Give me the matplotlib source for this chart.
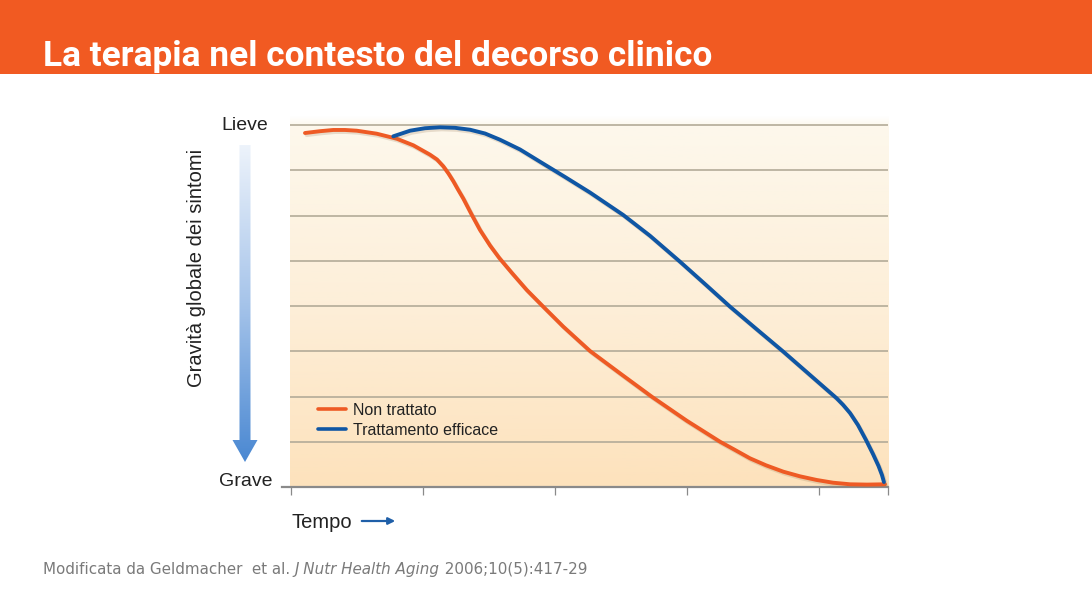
import matplotlib
matplotlib.use('Agg')
import matplotlib.pyplot as plt
import matplotlib.patheffects as pe
import numpy as np
from matplotlib.patches import Polygon, Rectangle
from matplotlib.colors import LinearSegmentedColormap

W, H = 1092, 591

# Values: x in time-tick units, y from 0 (Grave) to 8 (Lieve)
non_trattato_x = [0.106, 0.220, 0.320, 0.409, 0.498, 0.649, 0.801, 0.927, 1.053, 1.106,
                  1.154, 1.193, 1.230, 1.265, 1.305, 1.369, 1.432, 1.508, 1.578, 1.674,
                  1.786, 1.911, 2.063, 2.265, 2.492, 2.733, 2.998, 3.250, 3.364, 3.477,
                  3.598, 3.730, 3.856, 3.983, 4.106, 4.235, 4.364, 4.500]
non_trattato_y = [7.823, 7.863, 7.890, 7.890, 7.874, 7.808, 7.697, 7.551, 7.344, 7.238,
                  7.087, 6.928, 6.756, 6.575, 6.376, 6.018, 5.680, 5.337, 5.061, 4.729,
                  4.354, 3.985, 3.543, 3.006, 2.513, 1.996, 1.465, 1.001, 0.818, 0.634,
                  0.480, 0.338, 0.236, 0.155, 0.095, 0.060, 0.053, 0.060]
trattamento_x = [0.775, 0.902, 1.015, 1.129, 1.242, 1.356, 1.470, 1.583, 1.735, 1.886,
                 2.076, 2.265, 2.517, 2.720, 2.947, 3.136, 3.326, 3.530, 3.730, 3.932,
                 4.134, 4.182, 4.235, 4.295, 4.356, 4.409, 4.451, 4.477, 4.492]
trattamento_y = [7.750, 7.874, 7.929, 7.949, 7.938, 7.896, 7.812, 7.675, 7.459, 7.189,
                 6.851, 6.508, 6.011, 5.551, 4.979, 4.486, 3.985, 3.481, 2.990, 2.475,
                 1.960, 1.817, 1.635, 1.370, 1.039, 0.729, 0.464, 0.265, 0.110]

grid_levels = [1, 2, 3, 4, 5, 6, 7, 8]
time_ticks = [0, 1, 2, 3, 4, 4.52]
series_labels = ['Non trattato', 'Trattamento efficace']
series_colors = ['#EE5A24', '#0F56A4']

title = 'La terapia nel contesto del decorso clinico'
y_label = 'Gravità globale dei sintomi'

fig = plt.figure(figsize=(W / 100, H / 100), dpi=100)

# background layer in pixel coordinates
bg = fig.add_axes([0, 0, 1, 1])
bg.axis('off')
bg.add_patch(Rectangle((0, 0), W, 74, color='#F15A22', lw=0))

# gradient arrow next to the y label
arrow = Polygon([(239.5, 145), (250.5, 145), (250.5, 440), (257.5, 440), (245, 462),
                 (232.5, 440), (239.5, 440)], closed=True, facecolor='none', edgecolor='none')
bg.add_patch(arrow)
arrow_cmap = LinearSegmentedColormap.from_list('arr', ['#EDF3FB', '#A6C4EA', '#4A88D2'])
grad = np.linspace(0, 1, 256).reshape(-1, 1)
im = bg.imshow(grad, extent=(230, 260, 462, 145), cmap=arrow_cmap, aspect='auto',
               origin='upper')
im.set_clip_path(arrow)

# "Tempo" arrow
bg.annotate('', xy=(398, 521), xytext=(359, 521),
            arrowprops=dict(arrowstyle='-|>', color='#1F5FA8', lw=1.6, mutation_scale=10))
bg.set_xlim(0, W)
bg.set_ylim(H, 0)

# main chart
x_left = (282 - 291) / 132
x_right = (888 - 291) / 132
y_top = (487 - 115) / 45.25
ax = fig.add_axes([282 / W, (H - 487) / H, (888 - 282) / W, (487 - 115) / H])
ax.patch.set_visible(False)

peach = LinearSegmentedColormap.from_list(
    'peach', [(0, '#FFFFFF'), (0.03, '#FDF8EC'), (0.5, '#FDEFD9'), (1, '#FDE2BC')])
ax.imshow(grad, extent=(-0.008, x_right, 0, y_top), cmap=peach, aspect='auto',
          origin='upper', zorder=0)

ax.hlines(grid_levels, -0.008, x_right, color='#B3AB98', lw=1.2, zorder=1)

shadow = [pe.SimpleLineShadow(offset=(1.2, -1.5), shadow_color='#9a7a55', alpha=0.22),
          pe.Normal()]
ax.plot(non_trattato_x, non_trattato_y, color=series_colors[0], lw=2.8,
        solid_capstyle='round', solid_joinstyle='round', label=series_labels[0],
        path_effects=shadow, zorder=3)
ax.plot(trattamento_x, trattamento_y, color=series_colors[1], lw=2.8,
        solid_capstyle='round', solid_joinstyle='round', label=series_labels[1],
        path_effects=shadow, zorder=4)

ax.set_xlim(x_left, x_right)
ax.set_ylim(0, y_top)
for s in ['top', 'left', 'right']:
    ax.spines[s].set_visible(False)
ax.spines['bottom'].set_color('#8A8A8A')
ax.spines['bottom'].set_linewidth(1.6)
ax.set_xticks(time_ticks)
ax.set_xticklabels([])
ax.set_yticks([])
ax.tick_params(axis='x', direction='out', length=6, width=0.9, color='#8A8A8A')

leg = ax.legend(loc='upper left', bbox_to_anchor=(318 / W, 1 - 403 / H),
                bbox_transform=fig.transFigure, frameon=False,
                handlelength=1.75, handletextpad=0.45, labelspacing=0.3,
                borderpad=0, borderaxespad=0,
                prop={'family': 'Liberation Sans', 'size': 11.5})
for t in leg.get_texts():
    t.set_color('#222222')
for line in leg.get_lines():
    line.set_path_effects([])
    line.set_linewidth(2.6)

lab = dict(family='Liberation Sans', color='#222222')
fig.text(268 / W, 1 - 125 / H, 'Lieve', ha='right', va='center', fontsize=14, **lab)
fig.text(272 / W, 1 - 482 / H, 'Grave', ha='right', va='center', fontsize=14, **lab)
fig.text(197 / W, 1 - 268 / H, y_label, ha='center', va='center', rotation=90,
         fontsize=14.5, **lab)
fig.text(292 / W, 1 - 521 / H, 'Tempo', ha='left', va='center_baseline', fontsize=14.5, **lab)

# title, fitted to the reference width
renderer = fig.canvas.get_renderer()
ttl = fig.text(43 / W, 1 - 66 / H, title, color='white', fontweight='bold',
               family='Roboto', fontsize=20, ha='left', va='baseline')
w = ttl.get_window_extent(renderer).width
ttl.set_fontsize(20 * 667 / w)

# citation with an italic journal name
cite_parts = [('Modificata da Geldmacher  et al. ', 'normal'),
              ('J Nutr Health Aging', 'italic'),
              (' 2006;10(5):417-29', 'normal')]
xpos = 43
for txt, style in cite_parts:
    t = fig.text(xpos / W, 1 - 568 / H, txt, color='#7A7A7A', fontsize=10.9,
                 family='DejaVu Sans', style=style, ha='left', va='center_baseline')
    xpos += t.get_window_extent(renderer).width

fig.savefig('out.png', dpi=100)
